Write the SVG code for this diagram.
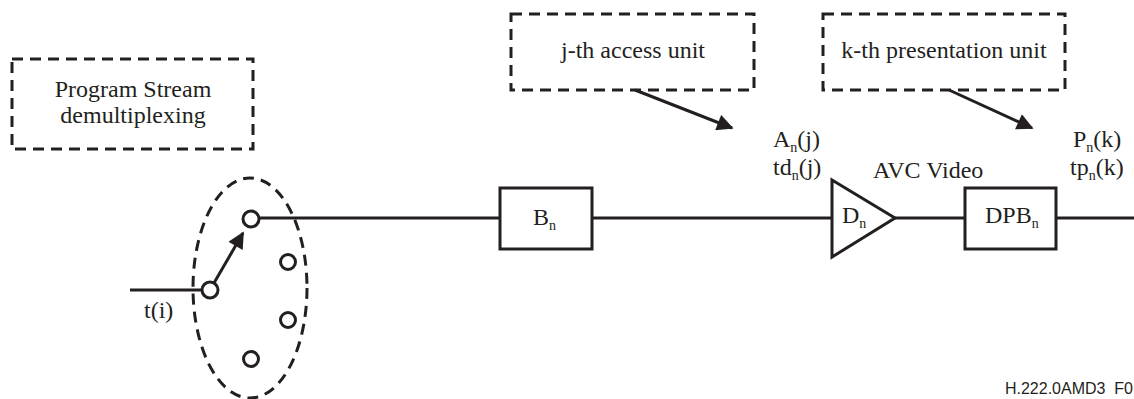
<svg xmlns="http://www.w3.org/2000/svg" width="1134" height="399" viewBox="0 0 1134 399">
<style>
text{font-family:"Liberation Serif","Times New Roman",serif;font-size:24px;fill:#231f20}
.sub{font-size:14px}
.dash{fill:none;stroke:#231f20;stroke-width:3;stroke-dasharray:11 7}
.solid{fill:#fff;stroke:#231f20;stroke-width:3}
.ln{fill:none;stroke:#231f20;stroke-width:3}
.ft{font-family:"Liberation Sans",Arial,sans-serif;font-size:16px}
</style>
<defs>
<marker id="ah" viewBox="0 0 10 10" refX="9" refY="5" markerWidth="6" markerHeight="5.5" markerUnits="strokeWidth" orient="auto">
<path d="M0,0 L10,5 L0,10 z" fill="#231f20"/>
</marker>
</defs>
<rect width="1134" height="399" fill="#fff"/>
<g id="connectors">
<line class="ln" x1="130" y1="290" x2="202" y2="290"/>
<line class="ln" x1="259" y1="218" x2="500" y2="218"/>
<line class="ln" x1="592" y1="218" x2="832" y2="218"/>
<line class="ln" x1="895" y1="218" x2="965" y2="218"/>
<line class="ln" x1="1056" y1="218" x2="1134" y2="218"/>
<line class="ln" x1="214" y1="283" x2="243" y2="233" marker-end="url(#ah)"/>
<line class="ln" x1="635" y1="90" x2="732" y2="128" marker-end="url(#ah)"/>
<line class="ln" x1="949" y1="90" x2="1032" y2="128" marker-end="url(#ah)"/>
</g>
<g id="ps-demux">
<rect class="dash" x="12" y="59" width="241" height="90"/>
<text x="133" y="97" text-anchor="middle">Program Stream</text>
<text x="133" y="123" text-anchor="middle">demultiplexing</text>
</g>
<g id="access-unit">
<rect class="dash" x="511" y="14" width="243" height="76"/>
<text x="633" y="58" text-anchor="middle">j-th access unit</text>
</g>
<g id="presentation-unit">
<rect class="dash" x="823" y="14" width="242" height="76"/>
<text x="944" y="58" text-anchor="middle">k-th presentation unit</text>
</g>
<g id="switch">
<ellipse class="dash" cx="250" cy="288" rx="57" ry="110"/>
<circle class="solid" cx="210" cy="290" r="8"/>
<circle class="solid" cx="251" cy="219" r="8"/>
<circle class="solid" cx="288" cy="262" r="7.5"/>
<circle class="solid" cx="288" cy="320" r="7.5"/>
<circle class="solid" cx="251" cy="359" r="7.5"/>
<text x="144" y="318">t(i)</text>
</g>
<g id="Bn">
<rect class="solid" x="500" y="188" width="92" height="61"/>
<text x="533" y="225">B<tspan class="sub" dy="5">n</tspan></text>
</g>
<g id="Dn">
<polygon class="solid" points="832,180 895,218 832,257"/>
<text x="842" y="223">D<tspan class="sub" dy="5">n</tspan></text>
</g>
<g id="DPBn">
<rect class="solid" x="965" y="188" width="91" height="61"/>
<text x="985" y="223">DPB<tspan class="sub" dy="5">n</tspan></text>
</g>
<g id="labels">
<text x="773" y="147">A<tspan class="sub" dy="5">n</tspan><tspan dy="-5">(j)</tspan></text>
<text x="773" y="175">td<tspan class="sub" dy="5">n</tspan><tspan dy="-5">(j)</tspan></text>
<text x="873" y="178">AVC Video</text>
<text x="1073" y="147">P<tspan class="sub" dy="5">n</tspan><tspan dy="-5">(k)</tspan></text>
<text x="1070" y="175">tp<tspan class="sub" dy="5">n</tspan><tspan dy="-5">(k)</tspan></text>
<text class="ft" x="1133" y="394" text-anchor="end">H.222.0AMD3&#160; F0</text>
</g>
</svg>
